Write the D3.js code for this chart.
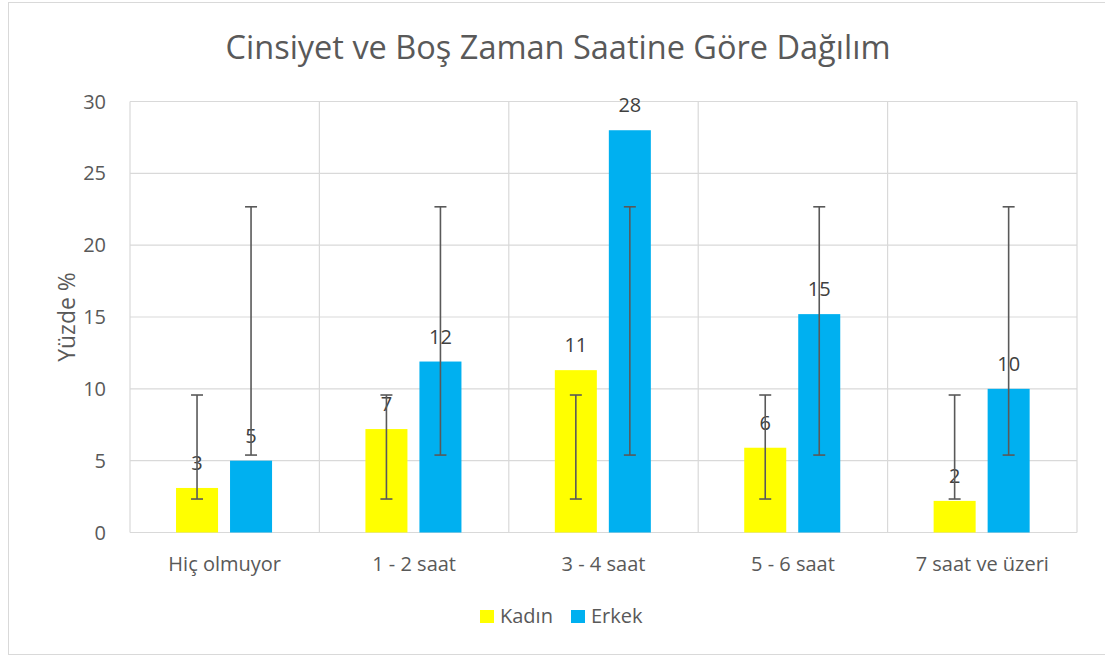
<!DOCTYPE html>
<html>
  <head>
    <meta http-equiv="Content-Type" content="text/html;charset=utf-8"/>
    <title>Cinsiyet ve Boş Zaman Saatine Göre Dağılım</title>
    <script src="https://d3js.org/d3.v7.min.js" charset="utf-8"></script>
    <style>
      body { margin: 0; background: #fff; font-family: 'Open Sans', sans-serif; }
      text { fill: #595959; }
    </style>
  </head>
  <body>
    <div id="chart"></div>
  </body>

  <script>
  // ---- data ----
  var categories = ["Hiç olmuyor", "1 - 2 saat", "3 - 4 saat", "5 - 6 saat", "7 saat ve üzeri"];
  var seriesNames = ["Kadın", "Erkek"];
  var kadin = [3.1, 7.2, 11.3, 5.9, 2.2];
  var erkek = [5.0, 11.9, 28.0, 15.2, 10.0];
  // error bar range (low, high) per series, same for every bar of the series
  var kadinHata = [2.33, 9.57];
  var erkekHata = [5.39, 22.67];
  var yTicks = [0, 5, 10, 15, 20, 25, 30];

  var colors = { "Kadın": "#FFFF00", "Erkek": "#00B0F0" };

  // ---- set-up ----
  var width = 1105, height = 656;
  var plot = { left: 130, right: 1077, top: 101.5, bottom: 532.5 };

  var svg = d3.select("#chart").append("svg")
    .attr("width", width)
    .attr("height", height);

  // chart border
  svg.append("rect")
    .attr("x", 8.5).attr("y", 2.5)
    .attr("width", 1100).attr("height", 652)
    .attr("fill", "none")
    .attr("stroke", "#d9d9d9")
    .attr("stroke-width", 1);

  var x0 = d3.scaleBand().domain(categories).range([plot.left, plot.right]);
  var bw = x0.bandwidth();
  var x1 = d3.scaleBand().domain(seriesNames)
    .range([bw * 0.243, bw * 0.750])
    .paddingInner(0.222);
  var y = d3.scaleLinear().domain([0, 30]).range([plot.bottom, plot.top]);

  // horizontal gridlines
  svg.append("g").selectAll("line")
    .data(yTicks).enter().append("line")
    .attr("x1", plot.left).attr("x2", plot.right)
    .attr("y1", function(d) { return y(d); })
    .attr("y2", function(d) { return y(d); })
    .attr("stroke", "#d9d9d9").attr("stroke-width", 1.2);

  // vertical gridlines at category boundaries
  var bounds = categories.map(function(c) { return x0(c); }).concat([plot.right]);
  svg.append("g").selectAll("line")
    .data(bounds).enter().append("line")
    .attr("x1", function(d) { return d; }).attr("x2", function(d) { return d; })
    .attr("y1", plot.top).attr("y2", plot.bottom)
    .attr("stroke", "#d9d9d9").attr("stroke-width", 1.2);

  // y tick labels
  svg.append("g").selectAll("text")
    .data(yTicks).enter().append("text")
    .attr("x", 106)
    .attr("y", function(d) { return y(d); })
    .attr("dy", "0.35em")
    .attr("text-anchor", "end")
    .style("font-size", "20px")
    .text(function(d) { return d; });

  // x category labels
  svg.append("g").selectAll("text")
    .data(categories).enter().append("text")
    .attr("x", function(d) { return x0(d) + bw / 2; })
    .attr("y", 571)
    .attr("text-anchor", "middle")
    .style("font-size", "20px")
    .text(function(d) { return d; });

  // y axis title
  svg.append("text")
    .attr("transform", "translate(75," + ((plot.top + plot.bottom) / 2) + ") rotate(-90)")
    .attr("text-anchor", "middle")
    .style("font-size", "23px")
    .text("Yüzde %");

  // title
  svg.append("text")
    .attr("x", 558).attr("y", 59)
    .attr("text-anchor", "middle")
    .style("font-size", "32.5px")
    .text("Cinsiyet ve Boş Zaman Saatine Göre Dağılım");

  // ---- bars ----
  var rows = categories.map(function(c, i) {
    return [
      { cat: c, name: "Kadın", value: kadin[i], err: kadinHata },
      { cat: c, name: "Erkek", value: erkek[i], err: erkekHata }
    ];
  });
  var flat = [].concat.apply([], rows);

  svg.append("g").selectAll("rect")
    .data(flat).enter().append("rect")
    .attr("x", function(d) { return x0(d.cat) + x1(d.name); })
    .attr("y", function(d) { return y(d.value); })
    .attr("width", x1.bandwidth())
    .attr("height", function(d) { return y(0) - y(d.value); })
    .attr("fill", function(d) { return colors[d.name]; });

  // data labels (drawn before error bars, the bars run over them)
  var fmt = d3.format(".0f");
  svg.append("g").selectAll("text")
    .data(flat).enter().append("text")
    .attr("x", function(d) { return x0(d.cat) + x1(d.name) + x1.bandwidth() / 2; })
    .attr("y", function(d) { return y(d.value) - 18; })
    .attr("text-anchor", "middle")
    .style("font-size", "20px")
    .style("fill", "#404040")
    .text(function(d) { return fmt(d.value); });

  // error bars
  var eb = svg.append("g").attr("stroke", "#595959").attr("stroke-width", 1.6);
  flat.forEach(function(d) {
    var cx = x0(d.cat) + x1(d.name) + x1.bandwidth() / 2;
    eb.append("line")
      .attr("x1", cx).attr("x2", cx)
      .attr("y1", y(d.err[0])).attr("y2", y(d.err[1]));
    d.err.forEach(function(v) {
      eb.append("line")
        .attr("x1", cx - 6).attr("x2", cx + 6)
        .attr("y1", y(v)).attr("y2", y(v));
    });
  });

  // ---- legend ----
  var legendX = [480, 571];
  var legend = svg.append("g").selectAll("g")
    .data(seriesNames).enter().append("g")
    .attr("transform", function(d, i) { return "translate(" + legendX[i] + ",610)"; });
  legend.append("rect")
    .attr("width", 14).attr("height", 13)
    .attr("fill", function(d) { return colors[d]; });
  legend.append("text")
    .attr("x", 20).attr("y", 13)
    .style("font-size", "20px")
    .text(function(d) { return d; });
  </script>
</html>
